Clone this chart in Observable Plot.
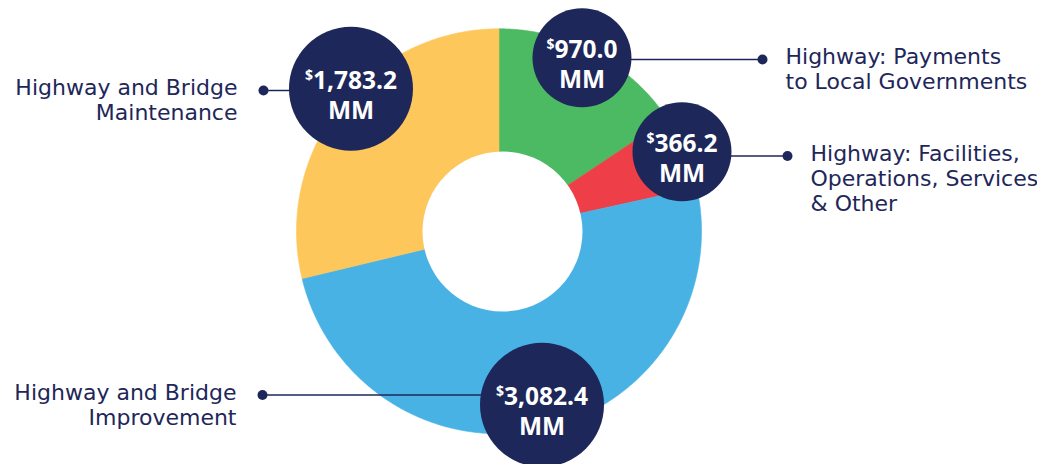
<!DOCTYPE html>
<html><head><meta charset="utf-8">
<script src="https://cdn.jsdelivr.net/npm/d3@7"></script>
<script src="https://cdn.jsdelivr.net/npm/@observablehq/plot@0.6"></script>
<style>html,body{margin:0;padding:0;background:#fff} #chart svg{display:block}</style>
</head><body><div id="chart"></div>
<script>
// ---- data ----
const categories = [
  "Highway: Payments to Local Governments",
  "Highway: Facilities, Operations, Services & Other",
  "Highway and Bridge Improvement",
  "Highway and Bridge Maintenance"
];
const values = [970.0, 366.2, 3082.4, 1783.2];
const valueLabels = ["$970.0", "$366.2", "$3,082.4", "$1,783.2"];
const unitLabel = "MM";
const labelLines = [
  ["Highway: Payments", "to Local Governments"],
  ["Highway: Facilities,", "Operations, Services", "& Other"],
  ["Highway and Bridge", "Improvement"],
  ["Highway and Bridge", "Maintenance"]
];
const colors = ["#4cb963", "#ee3e47", "#49b2e5", "#fec75c"];

// ---- layout (not data) ----
const W = 1037, H = 464;
const CX = 498.5, CY = 230.8, R_OUT = 202.5;
const HOLE = {x: 502, y: 231, r: 80};
const NAVY = "#1e2759";
const layout = [
  {angle: 25.56, dist: 192.3, r: 49.5, dotX: 762, dotY: 59, side: "right"},
  {angle: 66.52, dist: 199.5, r: 49.5, dotX: 787, dotY: 155.5, side: "right"},
  {angle: 166.08, dist: 178.8, r: 62, dotX: 262, dotY: 394.5, side: "left"},
  {angle: 313.92, dist: 205.5, r: 62, dotX: 263, dotY: 90, side: "left"}
];
const LABEL_FONT = 22, LINE_STEP = 25, TEXT_GAP = 23;

// ---- slices via d3.pie ----
const arcs = d3.pie().sort(null).startAngle(0).endAngle(2 * Math.PI)(values);
const slices = [];
arcs.forEach((a, i) => {
  const n = Math.max(8, Math.ceil((a.endAngle - a.startAngle) / (Math.PI / 360)));
  slices.push({slice: categories[i], color: colors[i], x: CX, y: CY});
  for (let k = 0; k <= n; k++) {
    const t = a.startAngle + (a.endAngle - a.startAngle) * k / n;
    slices.push({slice: categories[i], color: colors[i], x: CX + R_OUT * Math.sin(t), y: CY - R_OUT * Math.cos(t)});
  }
  slices.push({slice: categories[i], color: colors[i], x: CX, y: CY});
});

const bubbles = categories.map((c, i) => {
  const L = layout[i];
  const t = L.angle * Math.PI / 180;
  return {cat: c, value: valueLabels[i], r: L.r, x: CX + L.dist * Math.sin(t), y: CY - L.dist * Math.cos(t)};
});
const leaders = categories.map((c, i) => ({x1: layout[i].dotX, x2: bubbles[i].x, y: layout[i].dotY, cat: c}));
const dots = categories.map((c, i) => ({x: layout[i].dotX, y: layout[i].dotY}));
const labelRows = [];
labelLines.forEach((lines, i) => {
  const L = layout[i];
  lines.forEach((t, j) => labelRows.push({
    text: t,
    side: L.side,
    x: L.side === "right" ? L.dotX + TEXT_GAP : L.dotX - TEXT_GAP - 3,
    y: L.dotY + 4.5 + j * LINE_STEP
  }));
});
const labelStyle = {x: "x", y: "y", text: "text", lineAnchor: "bottom", fill: NAVY, fontSize: LABEL_FONT, fontFamily: "DejaVu Sans"};

const chart = Plot.plot({
  width: W, height: H,
  margin: 0,
  x: {domain: [0, W], range: [0, W], axis: null},
  y: {domain: [0, H], range: [0, H], axis: null},
  color: {type: "identity"},
  r: {type: "identity"},
  style: {background: "#fff", overflow: "visible"},
  marks: [
    Plot.line(slices, {x: "x", y: "y", z: "slice", fill: "color", stroke: "color", strokeWidth: 0.6}),
    Plot.dot([HOLE], {x: "x", y: "y", r: "r", fill: "#fff", stroke: null}),
    Plot.link(leaders, {x1: "x1", x2: "x2", y1: "y", y2: "y", stroke: NAVY, strokeWidth: 1.6}),
    Plot.dot(bubbles, {x: "x", y: "y", r: "r", fill: NAVY, stroke: null}),
    Plot.dot(dots, {x: "x", y: "y", r: 5, fill: NAVY, stroke: null}),
    Plot.text(bubbles, {x: "x", y: "y", text: "value", lineAnchor: "bottom", textAnchor: "middle",
      fill: "#fff", fontSize: 24.5, fontWeight: 700, fontFamily: "Open Sans"}),
    Plot.text(bubbles, {x: "x", y: d => d.y + 30, text: () => unitLabel, lineAnchor: "bottom", textAnchor: "middle",
      fill: "#fff", fontSize: 24.5, fontWeight: 700, fontFamily: "Open Sans"}),
    Plot.text(labelRows.filter(d => d.side === "right"), {...labelStyle, textAnchor: "start"}),
    Plot.text(labelRows.filter(d => d.side === "left"), {...labelStyle, textAnchor: "end"})
  ]
});

// superscript the dollar sign
chart.querySelectorAll("text").forEach(t => {
  const s = t.textContent;
  if (!s.startsWith("$") || t.children.length) return;
  t.textContent = "";
  const ns = "http://www.w3.org/2000/svg";
  const a = document.createElementNS(ns, "tspan");
  a.setAttribute("font-size", "14");
  a.setAttribute("dy", "-9");
  a.textContent = "$";
  const b = document.createElementNS(ns, "tspan");
  b.setAttribute("dy", "9");
  b.textContent = s.slice(1);
  t.appendChild(a); t.appendChild(b);
});

document.getElementById("chart").appendChild(chart);
</script>
</body></html>
